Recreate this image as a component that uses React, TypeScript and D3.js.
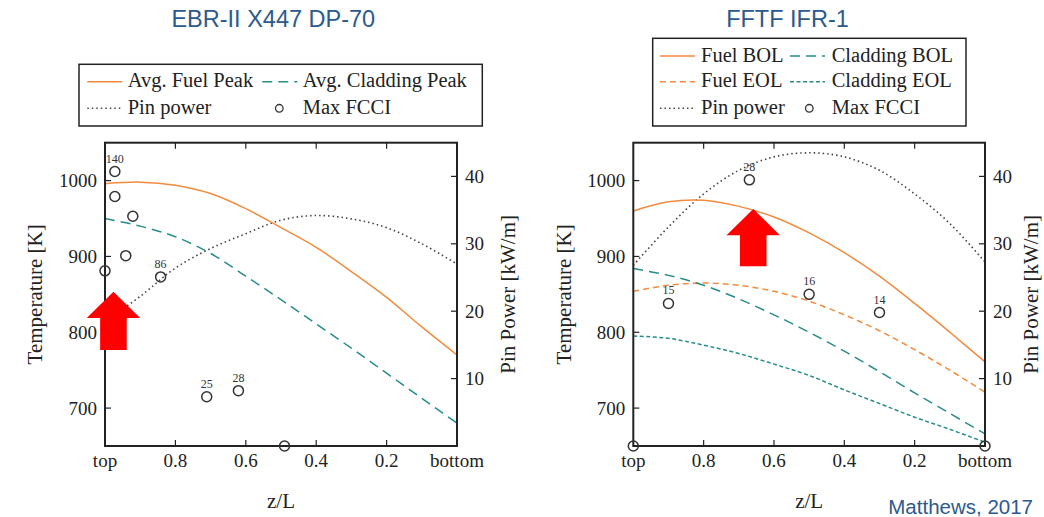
import React from 'react';
import * as d3 from 'd3';

// ---------- shared axis data ----------
const zGrid = [1.0, 0.9, 0.8, 0.7, 0.6, 0.5, 0.4, 0.3, 0.2, 0.1, 0.0];
const xTicks = [1.0, 0.8, 0.6, 0.4, 0.2, 0.0];
const xTickLabels = ['top', '0.8', '0.6', '0.4', '0.2', 'bottom'];
const tempTicks = [700, 800, 900, 1000];
const powerTicks = [10, 20, 30, 40];
const tempDomain = [650, 1050];
const powerDomain = [0, 45];

// ---------- EBR-II X447 DP-70 ----------
const ebrFuel = [996, 998, 994, 983, 963, 938, 912, 880, 846, 807, 770];
const ebrClad = [950, 940, 926, 904, 874, 843, 811, 779, 746, 713, 680];
const ebrPower = [18.5, 22.2, 26.4, 29.3, 31.5, 33.5, 34.2, 33.7, 32.4, 30.0, 27.0];
const ebrFcciZ = [0.972, 0.972, 0.921, 0.941, 1.0, 0.842, 0.711, 0.621, 0.49];
const ebrFcciT = [1012, 979, 953, 901, 881, 873, 715, 723, 650];
const ebrFcciLabel = ['140', '', '', '', '', '86', '25', '28', ''];

// ---------- FFTF IFR-1 ----------
const fftfFuelBOL = [960, 972, 974, 966, 952, 931, 905, 874, 838, 800, 761];
const fftfFuelEOL = [854, 862, 865, 862, 854, 841, 823, 802, 777, 750, 721];
const fftfCladBOL = [884, 875, 862, 844, 823, 800, 775, 748, 720, 693, 666];
const fftfCladEOL = [795, 792, 783, 772, 758, 743, 724, 706, 688, 672, 655];
const fftfPower = [26.8, 32.5, 37.4, 40.9, 42.9, 43.5, 42.9, 40.9, 37.4, 33.0, 27.3];
const fftfFcciZ = [1.0, 0.9, 0.67, 0.5, 0.3, 0.0];
const fftfFcciT = [650, 838, 1001, 850, 826, 650];
const fftfFcciLabel = ['', '15', '28', '16', '14', ''];

const ORANGE = '#f38b3f';
const TEAL = '#2a8b8b';
const DOT = '#444';
const FRAME = '#222';
const BLUE = '#2c5a8c';
const SERIF = '"Liberation Serif", "DejaVu Serif", serif';
const SANS = '"Liberation Sans", Arial, sans-serif';

type Series = { values: number[]; axis: 'T' | 'P'; color: string; dash?: string; width?: number };
type LegendItem = { x: number; y: number; kind: 'line' | 'circle'; color?: string; dash?: string; width?: number; label: string; textX: number };

interface PanelProps {
  x0: number;
  x1: number;
  title: string;
  titleX: number;
  powerLabelOffset: number;
  series: Series[];
  fcciZ: number[];
  fcciT: number[];
  fcciLabel: string[];
  arrow: { z: number; tipT: number; baseT: number };
  legendBox: [number, number, number, number];
  legend: LegendItem[];
}

const TOP = 142.7;
const BOTTOM = 446;

function Panel(p: PanelProps) {
  const x = d3.scaleLinear().domain([1, 0]).range([p.x0, p.x1]);
  const yT = d3.scaleLinear().domain(tempDomain).range([BOTTOM, TOP]);
  const yP = d3.scaleLinear().domain(powerDomain).range([BOTTOM, TOP]);
  const tick = 6;

  const lineFor = (s: Series) => {
    const ys = s.axis === 'T' ? yT : yP;
    const gen = d3
      .line<number>()
      .x((_, i) => x(zGrid[i]))
      .y((v) => ys(v))
      .curve(d3.curveCatmullRom.alpha(0.5));
    return gen(s.values) || '';
  };

  // arrow annotation
  const ax = x(p.arrow.z);
  const tipY = yT(p.arrow.tipT);
  const baseY = yT(p.arrow.baseT);
  const headH = 26.3;
  const headW = 26.7;
  const shaftW = 13.3;
  const arrowPath = `M${ax},${tipY} L${ax + headW},${tipY + headH} L${ax + shaftW},${tipY + headH} L${ax + shaftW},${baseY} L${ax - shaftW},${baseY} L${ax - shaftW},${tipY + headH} L${ax - headW},${tipY + headH} Z`;

  const midY = (TOP + BOTTOM) / 2;

  return (
    <g>
      <text x={p.titleX} y={27.3} textAnchor="middle" fontFamily={SANS} fontSize={23.5} fill={BLUE}>
        {p.title}
      </text>

      {/* legend */}
      <rect x={p.legendBox[0]} y={p.legendBox[1]} width={p.legendBox[2]} height={p.legendBox[3]} fill="white" stroke={FRAME} strokeWidth={1.5} />
      {p.legend.map((it, i) => (
        <g key={i}>
          {it.kind === 'line' ? (
            <line x1={it.x} x2={it.x + 35} y1={it.y} y2={it.y} stroke={it.color} strokeWidth={it.width || 1.5} strokeDasharray={it.dash} />
          ) : (
            <circle cx={it.x + 17.5} cy={it.y} r={3.8} fill="none" stroke="#333" strokeWidth={1.3} />
          )}
          <text x={it.textX} y={it.y + 5.5} fontFamily={SERIF} fontSize={20.5} fill="#222">
            {it.label}
          </text>
        </g>
      ))}

      {/* series */}
      {p.series.map((s, i) => (
        <path key={i} d={lineFor(s)} fill="none" stroke={s.color} strokeWidth={s.width || 1.5} strokeDasharray={s.dash} />
      ))}

      {/* frame */}
      <rect x={p.x0} y={TOP} width={p.x1 - p.x0} height={BOTTOM - TOP} fill="none" stroke={FRAME} strokeWidth={2} />

      {/* x ticks */}
      {xTicks.map((t, i) => (
        <g key={'x' + i}>
          {i > 0 && i < xTicks.length - 1 && (
            <>
              <line x1={x(t)} x2={x(t)} y1={BOTTOM} y2={BOTTOM - tick} stroke={FRAME} strokeWidth={1.2} />
              <line x1={x(t)} x2={x(t)} y1={TOP} y2={TOP + tick} stroke={FRAME} strokeWidth={1.2} />
            </>
          )}
          <text x={x(t)} y={466.7} textAnchor="middle" fontFamily={SERIF} fontSize={19} fill="#222">
            {xTickLabels[i]}
          </text>
        </g>
      ))}

      {/* temperature ticks */}
      {tempTicks.map((t) => (
        <g key={'t' + t}>
          <line x1={p.x0} x2={p.x0 + tick} y1={yT(t)} y2={yT(t)} stroke={FRAME} strokeWidth={1.2} />
          <text x={p.x0 - 8} y={yT(t)} dy="0.35em" textAnchor="end" fontFamily={SERIF} fontSize={19} fill="#222">
            {t}
          </text>
        </g>
      ))}

      {/* power ticks */}
      {powerTicks.map((t) => (
        <g key={'p' + t}>
          <line x1={p.x1} x2={p.x1 - tick} y1={yP(t)} y2={yP(t)} stroke={FRAME} strokeWidth={1.2} />
          <text x={p.x1 + 8} y={yP(t)} dy="0.35em" textAnchor="start" fontFamily={SERIF} fontSize={19} fill="#222">
            {t}
          </text>
        </g>
      ))}

      {/* axis labels */}
      <text transform={`translate(${p.x0 - 70},${midY}) rotate(-90)`} textAnchor="middle" dy="0.35em" fontFamily={SERIF} fontSize={21} fill="#222">
        Temperature [K]
      </text>
      <text transform={`translate(${p.x1 + p.powerLabelOffset},${midY}) rotate(-90)`} textAnchor="middle" dy="0.35em" fontFamily={SERIF} fontSize={21} fill="#222">
        Pin Power [kW/m]
      </text>
      <text x={(p.x0 + p.x1) / 2} y={508} textAnchor="middle" fontFamily={SERIF} fontSize={21} fill="#222">
        z/L
      </text>

      {/* FCCI markers */}
      {p.fcciZ.map((z, i) => (
        <g key={'f' + i}>
          <circle cx={x(z)} cy={yT(p.fcciT[i])} r={5} fill="none" stroke="#333" strokeWidth={1.5} />
          {p.fcciLabel[i] && (
            <text x={x(z)} y={yT(p.fcciT[i]) - 9} textAnchor="middle" fontFamily={SERIF} fontSize={12} fill="#333">
              {p.fcciLabel[i]}
            </text>
          )}
        </g>
      ))}

      {/* red arrow */}
      <path d={arrowPath} fill="#ff0000" />
    </g>
  );
}

export default function App() {
  const ebrSeries: Series[] = [
    { values: ebrPower, axis: 'P', color: DOT, dash: '1.5,3', width: 1.6 },
    { values: ebrFuel, axis: 'T', color: ORANGE },
    { values: ebrClad, axis: 'T', color: TEAL, dash: '10,6' },
  ];
  const fftfSeries: Series[] = [
    { values: fftfPower, axis: 'P', color: DOT, dash: '1.5,3', width: 1.6 },
    { values: fftfFuelBOL, axis: 'T', color: ORANGE },
    { values: fftfFuelEOL, axis: 'T', color: ORANGE, dash: '6,4' },
    { values: fftfCladBOL, axis: 'T', color: TEAL, dash: '10,6' },
    { values: fftfCladEOL, axis: 'T', color: TEAL, dash: '4,2.5' },
  ];

  const ebrLegend: LegendItem[] = [
    { x: 87.3, y: 81.7, kind: 'line', color: ORANGE, label: 'Avg. Fuel Peak', textX: 127.7 },
    { x: 262.3, y: 81.7, kind: 'line', color: TEAL, dash: '10,6', label: 'Avg. Cladding Peak', textX: 302.7 },
    { x: 87.3, y: 108.3, kind: 'line', color: DOT, dash: '1.5,3', width: 1.6, label: 'Pin power', textX: 127.7 },
    { x: 261.8, y: 108.3, kind: 'circle', label: 'Max FCCI', textX: 302.7 },
  ];
  const fftfLegend: LegendItem[] = [
    { x: 660, y: 56, kind: 'line', color: ORANGE, label: 'Fuel BOL', textX: 701 },
    { x: 790, y: 56, kind: 'line', color: TEAL, dash: '10,6', label: 'Cladding BOL', textX: 831.7 },
    { x: 660, y: 81.7, kind: 'line', color: ORANGE, dash: '6,4', label: 'Fuel EOL', textX: 701 },
    { x: 790, y: 81.7, kind: 'line', color: TEAL, dash: '4,2.5', label: 'Cladding EOL', textX: 831.7 },
    { x: 660, y: 108.3, kind: 'line', color: DOT, dash: '1.5,3', width: 1.6, label: 'Pin power', textX: 701 },
    { x: 791.8, y: 108.3, kind: 'circle', label: 'Max FCCI', textX: 831.7 },
  ];

  return (
    <svg width={1044} height={517} style={{ position: 'absolute', left: 0, top: 0, background: 'white' }}>
      <rect x={0} y={0} width={1044} height={517} fill="white" />
      <Panel
        x0={105}
        x1={457}
        title="EBR-II X447 DP-70"
        titleX={273.3}
        powerLabelOffset={51}
        series={ebrSeries}
        fcciZ={ebrFcciZ}
        fcciT={ebrFcciT}
        fcciLabel={ebrFcciLabel}
        arrow={{ z: 0.976, tipT: 853.5, baseT: 776.6 }}
        legendBox={[79, 64.3, 403.3, 61.7]}
        legend={ebrLegend}
      />
      <Panel
        x0={633.3}
        x1={985}
        title="FFTF IFR-1"
        titleX={787.5}
        powerLabelOffset={46}
        series={fftfSeries}
        fcciZ={fftfFcciZ}
        fcciT={fftfFcciT}
        fcciLabel={fftfFcciLabel}
        arrow={{ z: 0.659, tipT: 962.7, baseT: 887 }}
        legendBox={[652.7, 38.3, 313.3, 87.7]}
        legend={fftfLegend}
      />
      <text x={1033} y={514} textAnchor="end" fontFamily={SANS} fontSize={20.5} fill={BLUE}>
        Matthews, 2017
      </text>
    </svg>
  );
}
